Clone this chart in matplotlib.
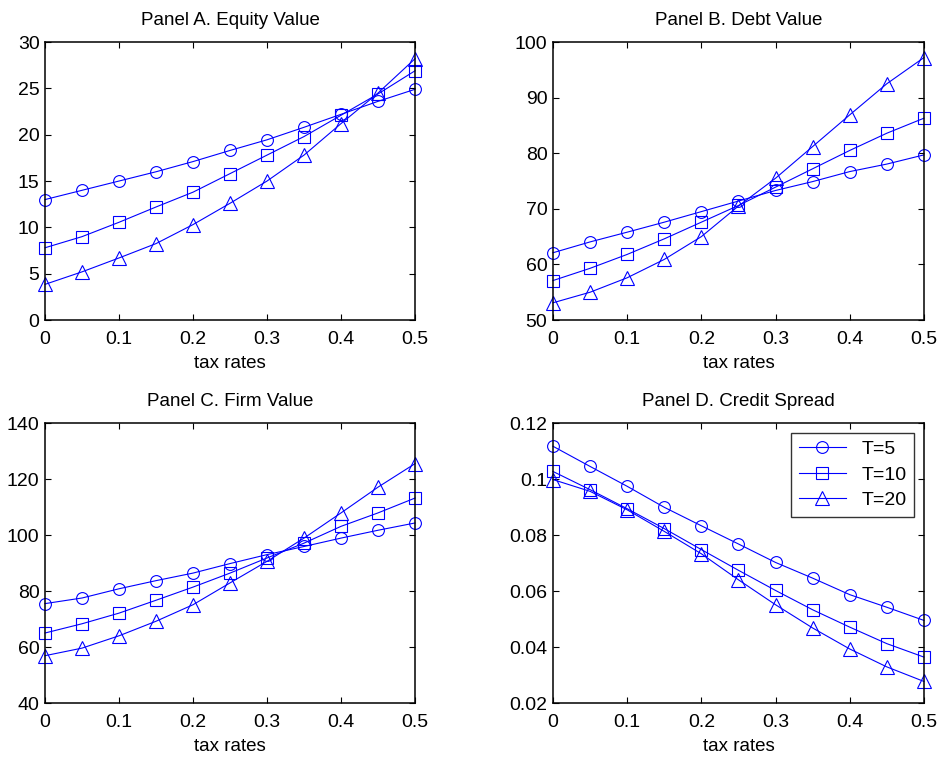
import matplotlib
matplotlib.use("Agg")
import matplotlib.pyplot as plt

plt.rcParams['font.family'] = ['Liberation Sans', 'DejaVu Sans']

tax_rates = [0, 0.05, 0.1, 0.15, 0.2, 0.25, 0.3, 0.35, 0.4, 0.45, 0.5]
labels = ["T=5", "T=10", "T=20"]

equity_t5 = [13.0, 14.0, 15.0, 16.0, 17.1, 18.3, 19.45, 20.8, 22.2, 23.6, 24.9]
equity_t10 = [7.8, 9.0, 10.55, 12.2, 13.8, 15.8, 17.8, 19.8, 22.1, 24.4, 26.9]
equity_t20 = [3.85, 5.2, 6.7, 8.25, 10.3, 12.6, 15.0, 17.8, 21.2, 24.5, 28.2]

debt_t5 = [62.1, 64.05, 65.8, 67.6, 69.5, 71.4, 73.3, 74.9, 76.7, 78.05, 79.7]
debt_t10 = [57.1, 59.3, 61.8, 64.6, 67.6, 70.6, 73.9, 77.2, 80.5, 83.6, 86.3]
debt_t20 = [53.1, 55.0, 57.6, 60.9, 65.0, 70.5, 75.5, 81.2, 86.9, 92.5, 97.2]

firm_t5 = [75.5, 77.5, 80.8, 83.7, 86.4, 89.8, 93.0, 95.9, 98.9, 101.7, 104.3]
firm_t10 = [65.0, 68.3, 72.1, 76.7, 81.4, 86.4, 91.8, 97.1, 103.1, 107.9, 113.2]
firm_t20 = [56.9, 59.6, 64.0, 69.2, 75.1, 82.9, 90.6, 98.9, 107.9, 117.1, 125.5]

spread_t5 = [0.1117, 0.1045, 0.0974, 0.0899, 0.0833, 0.0768, 0.0702, 0.0646, 0.0587, 0.0542, 0.0495]
spread_t10 = [0.1027, 0.0962, 0.0894, 0.0823, 0.0748, 0.0674, 0.0602, 0.0533, 0.0471, 0.0412, 0.0364]
spread_t20 = [0.0998, 0.0956, 0.0890, 0.0813, 0.0733, 0.0640, 0.0551, 0.0468, 0.0393, 0.0329, 0.0277]

panels = [
    ("Panel A. Equity Value", [equity_t5, equity_t10, equity_t20], (0, 30), [0, 5, 10, 15, 20, 25, 30], ["0", "5", "10", "15", "20", "25", "30"]),
    ("Panel B. Debt Value", [debt_t5, debt_t10, debt_t20], (50, 100), [50, 60, 70, 80, 90, 100], ["50", "60", "70", "80", "90", "100"]),
    ("Panel C. Firm Value", [firm_t5, firm_t10, firm_t20], (40, 140), [40, 60, 80, 100, 120, 140], ["40", "60", "80", "100", "120", "140"]),
    ("Panel D. Credit Spread", [spread_t5, spread_t10, spread_t20], (0.02, 0.12), [0.02, 0.04, 0.06, 0.08, 0.1, 0.12], ["0.02", "0.04", "0.06", "0.08", "0.1", "0.12"]),
]

positions = [
    [0.0478, 0.5789, 0.3928, 0.3658],
    [0.587, 0.5789, 0.3938, 0.3658],
    [0.0478, 0.075, 0.3928, 0.3684],
    [0.587, 0.075, 0.3938, 0.3684],
]

markers = ["o", "s", "^"]
marker_sizes = [8.5, 8.5, 10.5]

fig = plt.figure(figsize=(9.42, 7.6), dpi=100)

for (title, series, ylim, yticks, yticklabels), pos in zip(panels, positions):
    ax = fig.add_axes(pos)
    for values, m, ms, lab in zip(series, markers, marker_sizes, labels):
        ax.plot(
            tax_rates,
            values,
            color="blue",
            linewidth=0.8,
            marker=m,
            markersize=ms,
            markerfacecolor="none",
            markeredgecolor="blue",
            markeredgewidth=0.8,
            label=lab,
            clip_on=False
        )
    ax.set_xlim(0, 0.5)
    ax.set_ylim(*ylim)
    ax.set_xticks([0, 0.1, 0.2, 0.3, 0.4, 0.5])
    ax.set_xticklabels(["0", "0.1", "0.2", "0.3", "0.4", "0.5"])
    ax.set_yticks(yticks)
    ax.set_yticklabels(yticklabels)
    ax.tick_params(direction="in", length=4, width=0.8, top=True, right=True,
                   labelsize=14)
    ax.tick_params(axis="x", pad=8)
    ax.tick_params(axis="y", pad=4)
    for sp in ax.spines.values():
        sp.set_linewidth(1.1)
    ax.set_title(title, fontsize=13.5, pad=12.5)
    ax.set_xlabel("tax rates", fontsize=13.5, labelpad=5)
    if title.startswith("Panel D"):
        leg = ax.legend(loc="upper right", fontsize=14, frameon=True, fancybox=False,
                        edgecolor="black", handlelength=2.4, borderpad=0.4,
                        labelspacing=0.4, bbox_to_anchor=(1.0, 1.0),
                        borderaxespad=0.5)
        leg.get_frame().set_linewidth(1.0)

fig.savefig("out.png", dpi=100)
